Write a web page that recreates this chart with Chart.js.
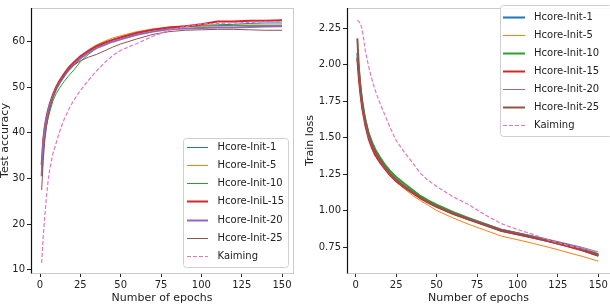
<!DOCTYPE html>
<html>
<head>
<meta charset="utf-8">
<script src="https://cdn.jsdelivr.net/npm/chart.js@4.4.1/dist/chart.umd.min.js"></script>
<style>
  body { margin: 0; background: #fff; }
  .panel { position: absolute; top: 0; width: 305px; height: 306px; }
  #left { left: 0; }
  #right { left: 305px; }
</style>
</head>
<body>
<div class="panel" id="left"><canvas id="accChart" width="305" height="306"></canvas></div>
<div class="panel" id="right"><canvas id="lossChart" width="305" height="306"></canvas></div>
<script>
const epochs = [1, 2, 3, 4, 5, 6, 8, 10, 12, 15, 18, 21, 25, 30, 35, 40, 45, 50, 60, 70, 80, 90, 100, 110, 120, 130, 140, 150];

const xTicks = [0, 25, 50, 75, 100, 125, 150];
const accTicks = [10, 20, 30, 40, 50, 60];
const lossTicks = [0.75, 1.00, 1.25, 1.50, 1.75, 2.00, 2.25];

const accLabels = ['Hcore-Init-1', 'Hcore-Init-5', 'Hcore-Init-10', 'Hcore-IniL-15', 'Hcore-Init-20', 'Hcore-Init-25', 'Kaiming'];
const lossLabels = ['Hcore-Init-1', 'Hcore-Init-5', 'Hcore-Init-10', 'Hcore-Init-15', 'Hcore-Init-20', 'Hcore-Init-25', 'Kaiming'];

// Test accuracy
const accInit1  = [32, 37.5, 40.5, 42.5, 44.2, 45.6, 47.8, 49.5, 50.8, 52.5, 54, 55.2, 56.6, 57.9, 58.9, 59.7, 60.4, 60.9, 61.9, 62.6, 63.1, 63.4, 63.6, 63.7, 63.8, 64.0, 64.1, 64.1];
const accInit5  = [31, 37, 40.8, 43, 44.6, 46, 48.2, 49.8, 51.1, 52.8, 54.3, 55.5, 56.8, 58.2, 59.3, 60.1, 60.8, 61.3, 62.2, 62.8, 63.2, 63.4, 63.5, 63.5, 63.5, 63.6, 63.6, 63.6];
const accInit10 = [33, 36, 39, 41.5, 43.2, 44.6, 47, 48.6, 49.8, 51.3, 52.6, 53.8, 55.6, 57.2, 58.6, 59.6, 60.4, 61, 62, 62.6, 63, 63.3, 63.4, 63.5, 63.6, 63.6, 63.6, 63.6];
const accInit15 = [33, 38.5, 41.5, 43.5, 45, 46.3, 48.4, 50.1, 51.4, 53, 54.4, 55.5, 56.8, 58, 59, 59.8, 60.4, 60.9, 61.9, 62.6, 63.1, 63.4, 63.8, 64.4, 64.4, 64.6, 64.6, 64.7];
const accInit20 = [30.5, 38, 41, 43, 44.6, 46, 48, 49.6, 50.9, 52.5, 53.9, 55, 56.3, 57.6, 58.6, 59.3, 60, 60.5, 61.5, 62.2, 62.7, 62.9, 63.0, 63.1, 63.1, 63.2, 63.3, 63.4];
const accInit25 = [27.5, 34, 38.5, 41.5, 43.5, 45.2, 47.8, 49.6, 50.9, 52.6, 54, 54.9, 55.8, 56.6, 57.2, 58, 58.8, 59.5, 60.6, 61.6, 62.2, 62.5, 62.6, 62.7, 62.7, 62.6, 62.5, 62.5];
const accKaiming = [11.5, 17.5, 22, 26, 29.5, 32, 35.5, 37.8, 40.2, 43, 45.3, 47.2, 49.3, 51.5, 53.6, 55.4, 56.9, 58.1, 59.6, 61.2, 62.5, 63.3, 63.9, 64.0, 64.1, 64.2, 64.4, 64.4];

// Train loss
const lossInit1  = [2.08, 1.93, 1.82, 1.73, 1.66, 1.60, 1.51, 1.45, 1.40, 1.345, 1.295, 1.255, 1.21, 1.165, 1.125, 1.088, 1.057, 1.028, 0.98, 0.94, 0.90, 0.862, 0.838, 0.814, 0.788, 0.76, 0.73, 0.69];
const lossInit5  = [2.06, 1.92, 1.81, 1.72, 1.65, 1.59, 1.50, 1.44, 1.39, 1.335, 1.285, 1.24, 1.195, 1.15, 1.105, 1.068, 1.035, 1.0, 0.95, 0.905, 0.865, 0.825, 0.80, 0.774, 0.746, 0.716, 0.686, 0.653];
const lossInit10 = [2.05, 1.95, 1.84, 1.75, 1.68, 1.62, 1.53, 1.47, 1.42, 1.365, 1.315, 1.275, 1.23, 1.185, 1.142, 1.10, 1.068, 1.04, 0.99, 0.948, 0.908, 0.868, 0.844, 0.82, 0.794, 0.766, 0.736, 0.70];
const lossInit15 = [2.04, 1.90, 1.79, 1.70, 1.64, 1.58, 1.49, 1.43, 1.38, 1.33, 1.285, 1.245, 1.20, 1.158, 1.12, 1.084, 1.053, 1.025, 0.978, 0.938, 0.90, 0.862, 0.838, 0.813, 0.787, 0.758, 0.728, 0.692];
const lossInit20 = [2.10, 1.94, 1.81, 1.72, 1.65, 1.59, 1.50, 1.44, 1.395, 1.34, 1.29, 1.25, 1.205, 1.162, 1.125, 1.09, 1.06, 1.032, 0.986, 0.946, 0.908, 0.872, 0.848, 0.824, 0.80, 0.774, 0.748, 0.716];
const lossInit25 = [2.18, 1.97, 1.83, 1.74, 1.67, 1.61, 1.52, 1.455, 1.405, 1.35, 1.30, 1.258, 1.212, 1.168, 1.128, 1.09, 1.058, 1.03, 0.982, 0.942, 0.904, 0.866, 0.842, 0.818, 0.793, 0.765, 0.735, 0.697];
const lossKaiming = [2.305, 2.295, 2.28, 2.24, 2.17, 2.09, 1.985, 1.90, 1.825, 1.735, 1.655, 1.575, 1.48, 1.40, 1.33, 1.255, 1.205, 1.165, 1.095, 1.04, 0.97, 0.91, 0.87, 0.835, 0.795, 0.765, 0.74, 0.715];

const colors = ['#1f77b4', '#ff7f0e', '#2ca02c', '#d62728', '#9467bd', '#8c564b', '#e377c2'];

Chart.defaults.font.family = 'DejaVu Sans';
Chart.defaults.font.size = 10;
Chart.defaults.color = '#222';

function makeDatasets(series, labels, widths) {
  return series.map((vals, i) => ({
    label: labels[i],
    data: vals.map((v, j) => ({ x: epochs[j], y: v })),
    borderColor: colors[i],
    borderWidth: widths[i],
    borderDash: i === 6 ? [4, 2] : [],
    pointRadius: 0,
    tension: 0,
    fill: false,
    order: series.length - i  // later series drawn on top, like matplotlib
  }));
}

// light grey frame with a dark left spine, drawn over the lines
const framePlugin = {
  id: 'frame',
  afterDatasetsDraw(chart) {
    const { ctx, chartArea: a } = chart;
    ctx.save();
    ctx.strokeStyle = '#cccccc';
    ctx.lineWidth = 1;
    ctx.strokeRect(Math.round(a.left) + 0.5, Math.round(a.top) + 0.5, Math.round(a.right - a.left), Math.round(a.bottom - a.top));
    ctx.strokeStyle = '#111';
    ctx.lineWidth = 1.2;
    ctx.beginPath();
    ctx.moveTo(Math.round(a.left) + 0.5, a.top);
    ctx.lineTo(Math.round(a.left) + 0.5, a.bottom + 0.5);
    ctx.stroke();
    ctx.restore();
  }
};

// matplotlib-like legend box inside the plot
const boxLegend = {
  id: 'boxLegend',
  afterDraw(chart, args, opts) {
    const { ctx } = chart;
    ctx.save();
    ctx.beginPath();
    ctx.roundRect(opts.x + 0.5, opts.y + 0.5, opts.w, opts.h, 3);
    ctx.fillStyle = 'rgba(255,255,255,0.85)';
    ctx.fill();
    ctx.strokeStyle = '#d0d0d0';
    ctx.lineWidth = 1;
    ctx.stroke();
    ctx.font = '10px DejaVu Sans';
    ctx.textBaseline = 'middle';
    chart.data.datasets.forEach((ds, i) => {
      const y = Math.round(opts.rowY + i * opts.rowGap) + 0.5;
      ctx.strokeStyle = ds.borderColor;
      ctx.lineWidth = ds.borderWidth;
      ctx.setLineDash(ds.borderDash);
      ctx.beginPath();
      ctx.moveTo(opts.lineX0, y);
      ctx.lineTo(opts.lineX1, y);
      ctx.stroke();
      ctx.setLineDash([]);
      ctx.fillStyle = '#222';
      ctx.fillText(ds.label, opts.textX, y);
    });
    ctx.restore();
  }
};

function makeOptions(cfg) {
  return {
    responsive: false,
    animation: false,
    devicePixelRatio: 1,
    layout: { padding: { left: 0, right: cfg.padRight, top: 1, bottom: 0 } },
    plugins: {
      legend: { display: false },
      tooltip: { enabled: false },
      boxLegend: cfg.legend
    },
    scales: {
      x: {
        type: 'linear',
        min: cfg.xMin,
        max: cfg.xMax,
        afterBuildTicks: s => { s.ticks = xTicks.map(v => ({ value: v })); },
        afterFit: s => { s.height = 33; },
        ticks: { padding: 2, maxRotation: 0, color: '#222' },
        grid: { drawOnChartArea: false, tickLength: 4, tickColor: '#222' },
        border: { display: false },
        title: { display: true, text: 'Number of epochs', font: { size: 11 }, padding: { top: 0, bottom: 1 }, color: '#222' }
      },
      y: {
        type: 'linear',
        min: cfg.yMin,
        max: cfg.yMax,
        afterBuildTicks: s => { s.ticks = cfg.yTicks.map(v => ({ value: v })); },
        afterFit: s => { s.width = cfg.yWidth; },
        ticks: { padding: 2, color: '#222', callback: cfg.yFormat },
        grid: { drawOnChartArea: false, tickLength: 4, tickColor: '#222' },
        border: { display: false },
        title: { display: true, text: cfg.yTitle, font: { size: 11, lineHeight: 1 }, padding: { top: 0, bottom: 0 }, color: '#222' }
      }
    }
  };
}

new Chart(document.getElementById('accChart'), {
  type: 'line',
  data: {
    datasets: makeDatasets(
      [accInit1, accInit5, accInit10, accInit15, accInit20, accInit25, accKaiming],
      accLabels, [1, 1, 1, 2, 2, 1, 1.2])
  },
  options: makeOptions({
    xMin: -5.6, xMax: 156.8, yMin: 9.29, yMax: 67.38,
    yTicks: accTicks, yWidth: 31, padRight: 12,
    yTitle: 'Test accuracy', yFormat: v => v,
    legend: { x: 183, y: 138, w: 105, h: 129, rowY: 146.7, rowGap: 18.2, lineX0: 187, lineX1: 208, textX: 217.5 }
  }),
  plugins: [framePlugin, boxLegend]
});

new Chart(document.getElementById('lossChart'), {
  type: 'line',
  data: {
    datasets: makeDatasets(
      [lossInit1, lossInit5, lossInit10, lossInit15, lossInit20, lossInit25, lossKaiming],
      lossLabels, [2, 1, 2, 2, 1, 2, 1.2])
  },
  options: makeOptions({
    xMin: -5.4, xMax: 157.2, yMin: 0.572, yMax: 2.388,
    yTicks: lossTicks, yWidth: 42, padRight: 0,
    yTitle: 'Train loss', yFormat: v => Number(v).toFixed(2),
    legend: { x: 195, y: 5, w: 112, h: 131, rowY: 17, rowGap: 18, lineX0: 198, lineX1: 220, textX: 229 }
  }),
  plugins: [framePlugin, boxLegend]
});
</script>
</body>
</html>
